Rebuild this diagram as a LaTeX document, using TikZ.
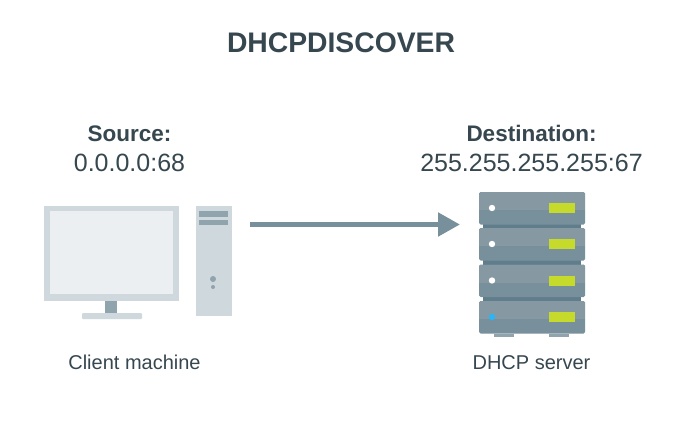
\documentclass[tikz,border=0pt]{standalone}
\usepackage{fontspec}
\setmainfont{Liberation Sans}
\usetikzlibrary{arrows.meta}
\definecolor{txt}{HTML}{37474F}
\definecolor{mon}{HTML}{CFD8DC}
\definecolor{scr}{HTML}{ECEFF1}
\definecolor{slate}{HTML}{78909C}
\definecolor{slatel}{HTML}{90A4AE}
\definecolor{slatem}{HTML}{8699A3}
\definecolor{slated}{HTML}{607D8B}
\definecolor{lime}{HTML}{C6DA2B}
\definecolor{led}{HTML}{29B6F6}
\tikzset{x=1pt,y=-1pt,
 lab/.style={text=txt,inner sep=0pt,anchor=base},
 boldlab/.style={lab,font=\fontsize{22.5}{24}\selectfont\bfseries},
 iplab/.style={lab,font=\fontsize{25}{27}\selectfont},
 caplab/.style={lab,font=\fontsize{20}{22}\selectfont},
}
\newcommand{\srvunit}[2]{%
 \fill[slate,rounded corners=1.5pt] (479,#1) rectangle (585,#1+32.5);
 \begin{scope}
 \clip[rounded corners=1.5pt] (479,#1) rectangle (585,#1+32.5);
 \fill[slatem] (479,#1) rectangle (585,#1+18);
 \end{scope}
 \fill[#2] (492,#1+16) circle (3.2);
 \fill[lime] (549,#1+11) rectangle (575,#1+21);
}
\begin{document}
\begin{tikzpicture}
\useasboundingbox (0,0) rectangle (686,428);
\fill[white] (0,0) rectangle (686,428);
\node[lab,font=\fontsize{28.3}{30}\selectfont\bfseries] (title) at (341,53) {DHCPDISCOVER};
\node[boldlab] (src) at (129.5,141) {Source:};
\node[iplab] (srcip) at (129.5,171) {0.0.0.0:68};
\node[boldlab] (dst) at (531.5,141) {Destination:};
\node[iplab] (dstip) at (531.5,171) {255.255.255.255:67};
\node[caplab] (cm) at (134.5,369) {Client machine};
\node[caplab] (ds) at (531.5,369) {DHCP server};
% monitor
\fill[mon] (44,206) rectangle (179,301);
\fill[scr] (50,211) rectangle (173,294);
\fill[slatel] (105,301) rectangle (117,313);
\fill[mon,rounded corners=1pt] (82,313) rectangle (142,319);
% tower
\fill[mon] (196,206) rectangle (232,316);
\fill[slatel] (199,211) rectangle (228,216.5);
\fill[slatel] (199,219.5) rectangle (228,225);
\fill[slatel] (213,279) circle (3);
\fill[slatel] (213,287) circle (2);
% server
\fill[slated] (483,222) rectangle (581,303);
\fill[slatel] (494,334) rectangle (514,337);
\fill[slatel] (549,334) rectangle (569,337);
\srvunit{192}{white}
\srvunit{228}{white}
\srvunit{264.5}{white}
\srvunit{301}{led}
\coordinate (from) at (250,224.5);
\coordinate (to) at (460,224.5);
\draw[slate,line width=5pt,-{Triangle[length=22pt,width=23pt]}] (from) -- (to);
\end{tikzpicture}
\end{document}
